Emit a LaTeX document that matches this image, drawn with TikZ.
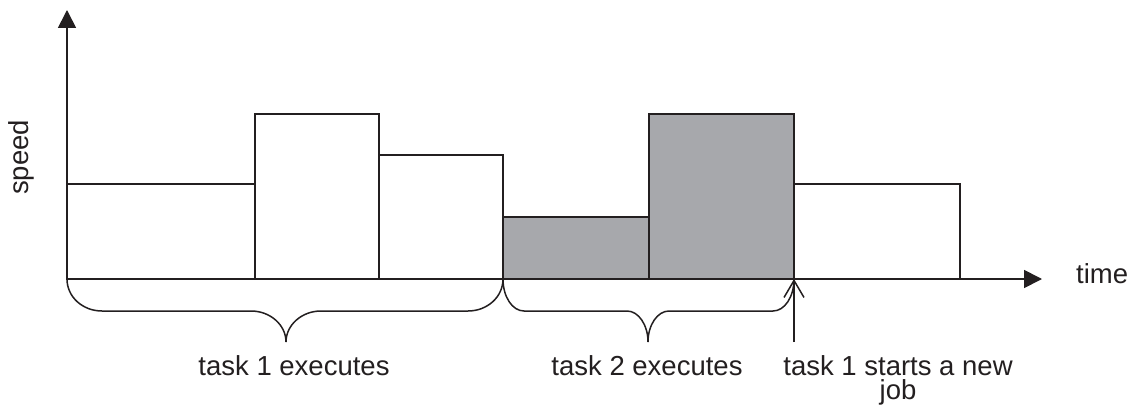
\documentclass[tikz,border=0pt]{standalone}
\usepackage{fontspec}
\setmainfont{Liberation Sans}
\usetikzlibrary{arrows.meta}

\definecolor{ink}{RGB}{35,31,32}
\definecolor{busy}{RGB}{167,168,172}

% brace under the time axis: left end, tip, right end, corner radius
\newcommand{\drawbrace}[4]{%
  \draw[bracestyle] (#1,279) .. controls (#1,297) and ({#1+0.45*#4},311) .. ({#1+#4},311)
    -- ({#2-#4},311) .. controls ({#2-0.45*#4},311) and (#2,325) .. (#2,342)
    .. controls (#2,325) and ({#2+0.45*#4},311) .. ({#2+#4},311)
    -- ({#3-#4},311) .. controls ({#3-0.45*#4},311) and (#3,297) .. (#3,279);}

\begin{document}
\begin{tikzpicture}[x=1pt,y=-1pt,
  bar/.style={draw=ink,line width=1.5pt},
  busybar/.style={bar,fill=busy},
  axis/.style={draw=ink,line width=1.7pt,-{Triangle[length=18pt,width=18pt]}},
  bracestyle/.style={draw=ink,line width=1.5pt},
  jobarrow/.style={draw=ink,line width=1.5pt,-{Straight Barb[length=17pt,width=20pt,line width=1.5pt]}},
  lbl/.style={text=ink,inner sep=0pt,font=\fontsize{27.5}{24}\selectfont}]
\useasboundingbox (0,0) rectangle (1132,406);

% speed profile of the executing jobs
\draw[bar] (67,279) rectangle (255,184);
\draw[bar] (255,279) rectangle (379,114);
\draw[bar] (379,279) rectangle (503,155);
\draw[busybar] (503,279) rectangle (649,217);
\draw[busybar] (649,279) rectangle (794,114);
\draw[bar] (794,279) rectangle (960,184);

% axes
\coordinate (O) at (67,279);
\coordinate (ytip) at (67,10);
\coordinate (xtip) at (1042,279);
\draw[axis] (O) -- (ytip);
\draw[axis] (O) -- (xtip);
\node[lbl,anchor=base west] (time) at (1076,283) {time};
\node[lbl,anchor=base,rotate=90] (speed) at (28,157.5) {speed};

% execution intervals
\drawbrace{67}{286}{503}{35}
\drawbrace{503}{648}{794}{21}
\node[lbl,anchor=base] (t1) at (294,375) {task 1 executes};
\node[lbl,anchor=base] (t2) at (647,375) {task 2 executes};

% release of the next job
\coordinate (jobtail) at (794,342);
\coordinate (jobhead) at (794,279);
\draw[jobarrow] (jobtail) -- (jobhead);
\node[lbl,anchor=north,align=center] (newjob) at (898,355.3) {task 1 starts a new\\job};
\end{tikzpicture}
\end{document}
